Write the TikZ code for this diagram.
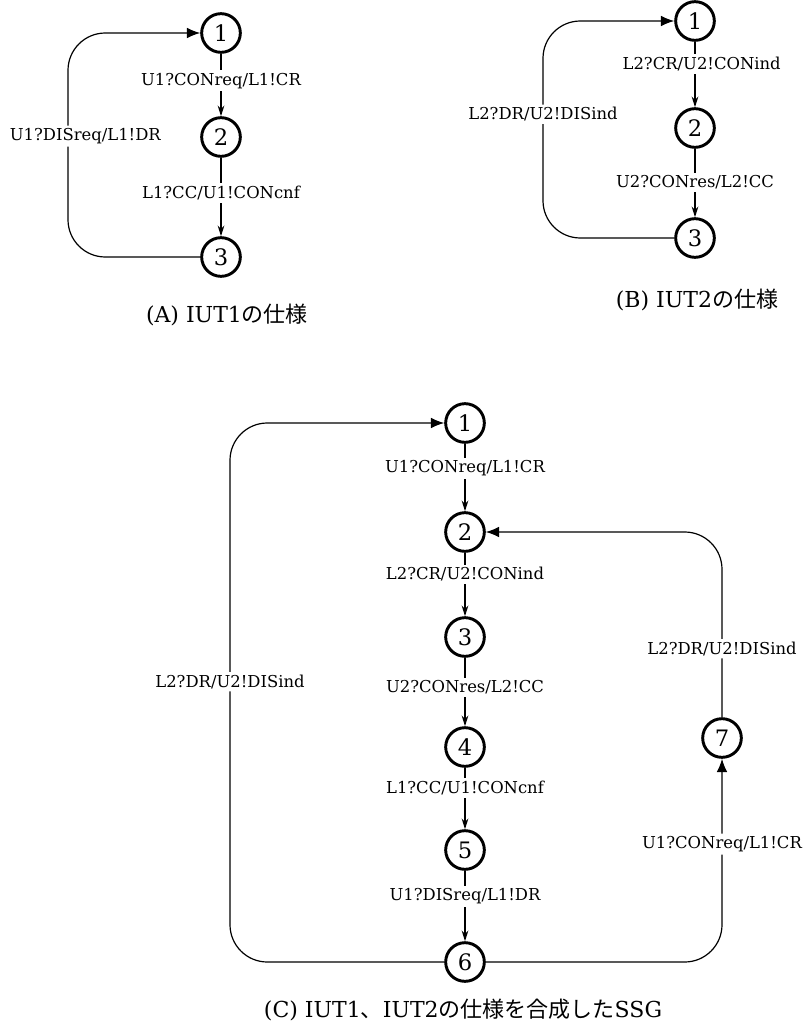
\documentclass[tikz,border=0pt]{standalone}
\usepackage{fontspec}
\setmainfont{DejaVu Serif}
\newfontfamily\jpfont{Noto Sans CJK JP}
\usetikzlibrary{arrows.meta}
\tikzset{
    state/.style={circle, draw, line width=2.2pt, minimum size=29pt, inner sep=0pt,
        font=\fontsize{17}{20}\selectfont},
    trans/.style={line width=0.9pt, -{Stealth[length=8pt,width=5pt]}},
    back/.style={line width=0.9pt, rounded corners=28pt, -{Latex[length=10pt,width=8pt]}},
    lbl/.style={fill=white, inner sep=2pt, font=\fontsize{12.3}{15}\selectfont},
    captext/.style={font=\fontsize{16.5}{19}\selectfont},
}
\begin{document}
\begin{tikzpicture}[x=0.75pt, y=-0.75pt]
    \useasboundingbox (0,0) rectangle (804,1031);
    % (A) IUT1の仕様
    \foreach \n/\y in {1/33,2/137,3/257}
        \node[state] (a\n) at (221,\y) {\n};
    \draw[trans] (a1) -- node[lbl,pos=0.43] {U1?CONreq/L1!CR} (a2);
    \draw[trans] (a2) -- node[lbl,pos=0.45] {L1?CC/U1!CONcnf} (a3);
    \draw[back] (a3) -- (68,257) -- node[lbl,pos=0.54,xshift=13pt] {U1?DISreq/L1!DR} (68,33) -- (a1);
    \node[captext] (capA) at (227,315) {(A) IUT1{\jpfont の仕様}};

    % (B) IUT2の仕様
    \foreach \n/\y in {1/21,2/128,3/238}
        \node[state] (b\n) at (695,\y) {\n};
    \draw[trans] (b1) -- node[lbl,pos=0.34,xshift=5pt] {L2?CR/U2!CONind} (b2);
    \draw[trans] (b2) -- node[lbl,pos=0.49] {U2?CONres/L2!CC} (b3);
    \draw[back] (b3) -- (543,238) -- node[lbl,pos=0.57] {L2?DR/U2!DISind} (543,21) -- (b1);
    \node[captext] (capB) at (697,300) {(B) IUT2{\jpfont の仕様}};

    % (C) 合成したSSG
    \foreach \n/\y in {1/423,2/532,3/637,4/747,5/850,6/962}
        \node[state] (c\n) at (465,\y) {\n};
    \node[state] (c7) at (722,738) {7};
    \draw[trans] (c1) -- node[lbl,pos=0.36] {U1?CONreq/L1!CR} (c2);
    \draw[trans] (c2) -- node[lbl,pos=0.34] {L2?CR/U2!CONind} (c3);
    \draw[trans] (c3) -- node[lbl,pos=0.43] {U2?CONres/L2!CC} (c4);
    \draw[trans] (c4) -- node[lbl,pos=0.33] {L1?CC/U1!CONcnf} (c5);
    \draw[trans] (c5) -- node[lbl,pos=0.36] {U1?DISreq/L1!DR} (c6);
    % 戻り遷移
    \draw[back] (c6) -- (230,962) -- node[lbl,pos=0.52] {L2?DR/U2!DISind} (230,423) -- (c1);
    \draw[back] (c6) -- (722,962) -- node[lbl,pos=0.58] {U1?CONreq/L1!CR} (c7);
    \draw[back] (c7) -- node[lbl,pos=0.37] {L2?DR/U2!DISind} (722,532) -- (c2);
    \node[captext] (capC) at (463,1010) {(C) IUT1{\jpfont 、}IUT2{\jpfont の仕様を合成した}SSG};
\end{tikzpicture}
\end{document}
